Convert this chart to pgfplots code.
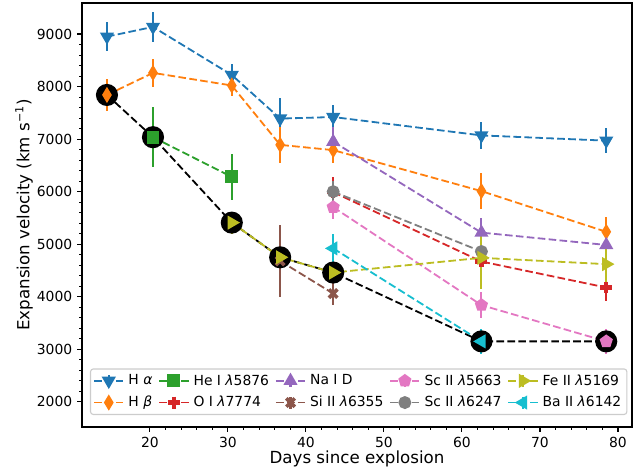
\documentclass[border=0pt]{standalone}
\usepackage{pgfplots}
\pgfplotsset{compat=1.18}
\usepackage{pgfplotstable}
\usepackage{fontspec}
\setmainfont{DejaVu Sans}

\definecolor{c0}{HTML}{1F77B4}
\definecolor{c1}{HTML}{FF7F0E}
\definecolor{c2}{HTML}{2CA02C}
\definecolor{c3}{HTML}{D62728}
\definecolor{c4}{HTML}{9467BD}
\definecolor{c5}{HTML}{8C564B}
\definecolor{c6}{HTML}{E377C2}
\definecolor{c7}{HTML}{7F7F7F}
\definecolor{c8}{HTML}{BCBD22}
\definecolor{c9}{HTML}{17BECF}

\pgfplotstableread{
x y e
14.5 8950 280
20.4 9135 290
30.5 8220 210
36.7 7390 400
43.5 7420 230
62.5 7070 250
78.5 6970 240
}\tHa
\pgfplotstableread{
x y e
14.5 7840 300
20.4 8260 260
30.5 8020 200
36.7 6890 340
43.5 6790 250
62.5 6010 350
78.5 5235 280
}\tHb
\pgfplotstableread{
x y e
20.4 7036 570
30.5 6280 445
}\tHeI
\pgfplotstableread{
x y e
43.5 5990 290
62.5 4670 300
78.5 4175 250
}\tOI
\pgfplotstableread{
x y e
43.5 6950 280
62.5 5220 270
78.5 4985 250
}\tNaI
\pgfplotstableread{
x y e
36.7 4680 680
43.5 4060 210
}\tSiII
\pgfplotstableread{
x y e
43.5 5705 230
62.5 3840 250
78.5 3150 240
}\tScA
\pgfplotstableread{
x y e
43.5 6000 200
62.5 4860 200
}\tScB
\pgfplotstableread{
x y e
30.5 5410 210
36.7 4750 150
43.5 4460 150
62.5 4740 600
78.5 4620 350
}\tFeII
\pgfplotstableread{
x y e
43.5 4920 270
62.5 3150 240
}\tBaII
\pgfplotstableread{
x y
14.5 7840
20.4 7036
30.5 5410
36.7 4750
43.5 4460
62.5 3150
78.5 3150
}\tPh

\pgfplotsset{
  base/.style={line width=1.3pt, dash pattern=on 5.5pt off 2.4pt},
  sHa/.style={base, color=c0, mark=triangle*, mark size=4.6pt, mark options={solid, rotate=180, fill=c0}},
  sHb/.style={base, color=c1, mark=diamond*, mark size=4.6pt, mark options={solid, xscale=0.8, fill=c1}},
  sHeI/.style={base, color=c2, mark=square*, mark size=4pt, mark options={solid, fill=c2}},
  sOI/.style={base, color=c3, mark=+, mark size=4.3pt, mark options={solid, line width=3pt}},
  sNaI/.style={base, color=c4, mark=triangle*, mark size=4.6pt, mark options={solid, fill=c4}},
  sSiII/.style={base, color=c5, mark=x, mark size=4.3pt, mark options={solid, line width=2.6pt}},
  sScA/.style={base, color=c6, mark=pentagon*, mark size=4.2pt, mark options={solid, fill=c6}},
  sScB/.style={base, color=c7, mark=*, mark size=4pt, mark options={solid, fill=c7}},
  sFeII/.style={base, color=c8, mark=triangle*, mark size=4.6pt, mark options={solid, rotate=-90, fill=c8}},
  sBaII/.style={base, color=c9, mark=triangle*, mark size=4.6pt, mark options={solid, rotate=90, fill=c9}},
  eb/.style={error bars/.cd, y dir=both, y explicit, error mark=none, error bar style={solid, line width=1.5pt}, /pgfplots/.cd},
}

\begin{document}
\begin{tikzpicture}
\begin{axis}[
  scale only axis, width=396pt, height=305.3pt,
  xmin=11.3, xmax=81.8, ymin=1520, ymax=9590,
  xtick={20,30,...,80}, ytick={2000,3000,...,9000},
  minor x tick num=4, minor y tick num=4,
  tick pos=left, tick align=outside,
  major tick length=3.5pt, minor tick length=2pt,
  every major tick/.style={black, line width=0.8pt},
  every minor tick/.style={black, line width=0.6pt},
  axis line style={line width=0.8pt},
  tick label style={font=\fontsize{10}{12}\selectfont},
  /pgf/number format/assume math mode=true,
  /pgf/number format/1000 sep={},
  xlabel={Days since explosion},
  ylabel={Expansion velocity (km s\textsuperscript{−1})},
  label style={font=\fontsize{12}{14}\selectfont},
  xlabel style={at={(axis description cs:0.5,-0.0755)}, anchor=center},
  ylabel style={at={(axis description cs:-0.1055,0.5)}, anchor=center},
  legend columns=5,
  legend cell align=left,
  legend image code/.code={
    \draw[#1, solid, mark=none, line width=1.5pt] (10.5pt,-4.3pt) -- (10.5pt,4.3pt);
    \draw[mark repeat=2, mark phase=2, #1] plot coordinates {(0pt,0pt) (10.5pt,0pt) (21pt,0pt)};
  },
  legend style={at={(rel axis cs:0.0145,0.0283)}, anchor=south west,
    font=\fontsize{10}{12}\selectfont, draw=black!20, rounded corners=2pt,
    fill=white, line width=0.8pt,
    inner xsep=2pt, inner ysep=2pt, row sep=2.5pt,
    /tikz/every odd column/.style={column sep=1pt},
    /tikz/every even column/.style={column sep=2.3pt}},
]
\addplot[black, line width=1.3pt, dash pattern=on 5.5pt off 2.4pt, mark=*, mark size=7.3pt, mark options={solid, fill=black}, forget plot] table[x=x,y=y] {\tPh};
\addplot[forget plot, sHa, eb] table[x=x,y=y,y error=e] {\tHa};
\addplot[forget plot, sHb, eb] table[x=x,y=y,y error=e] {\tHb};
\addplot[forget plot, sHeI, eb] table[x=x,y=y,y error=e] {\tHeI};
\addplot[forget plot, sOI, eb] table[x=x,y=y,y error=e] {\tOI};
\addplot[forget plot, sNaI, eb] table[x=x,y=y,y error=e] {\tNaI};
\addplot[forget plot, sSiII, eb] table[x=x,y=y,y error=e] {\tSiII};
\addplot[forget plot, sScA, eb] table[x=x,y=y,y error=e] {\tScA};
\addplot[forget plot, sScB, eb] table[x=x,y=y,y error=e] {\tScB};
\addplot[forget plot, sFeII, eb] table[x=x,y=y,y error=e] {\tFeII};
\addplot[forget plot, sBaII, eb] table[x=x,y=y,y error=e] {\tBaII};

\addlegendimage{sHa}\addlegendentry{H \textit{α}}
\addlegendimage{sHeI}\addlegendentry{He I \textit{λ}5876}
\addlegendimage{sNaI}\addlegendentry{Na I D}
\addlegendimage{sScA}\addlegendentry{Sc II \textit{λ}5663}
\addlegendimage{sFeII}\addlegendentry{Fe II \textit{λ}5169}
\addlegendimage{sHb}\addlegendentry{H \textit{β}}
\addlegendimage{sOI}\addlegendentry{O I \textit{λ}7774}
\addlegendimage{sSiII}\addlegendentry{Si II \textit{λ}6355}
\addlegendimage{sScB}\addlegendentry{Sc II \textit{λ}6247}
\addlegendimage{sBaII}\addlegendentry{Ba II \textit{λ}6142}

\coordinate (bbSW) at (rel axis cs:-0.1491,-0.1061);
\coordinate (bbNE) at (rel axis cs:1.0218,1.00708);
\end{axis}
\pgfresetboundingbox
\path[use as bounding box] (bbSW) rectangle (bbNE);
\end{tikzpicture}
\end{document}
